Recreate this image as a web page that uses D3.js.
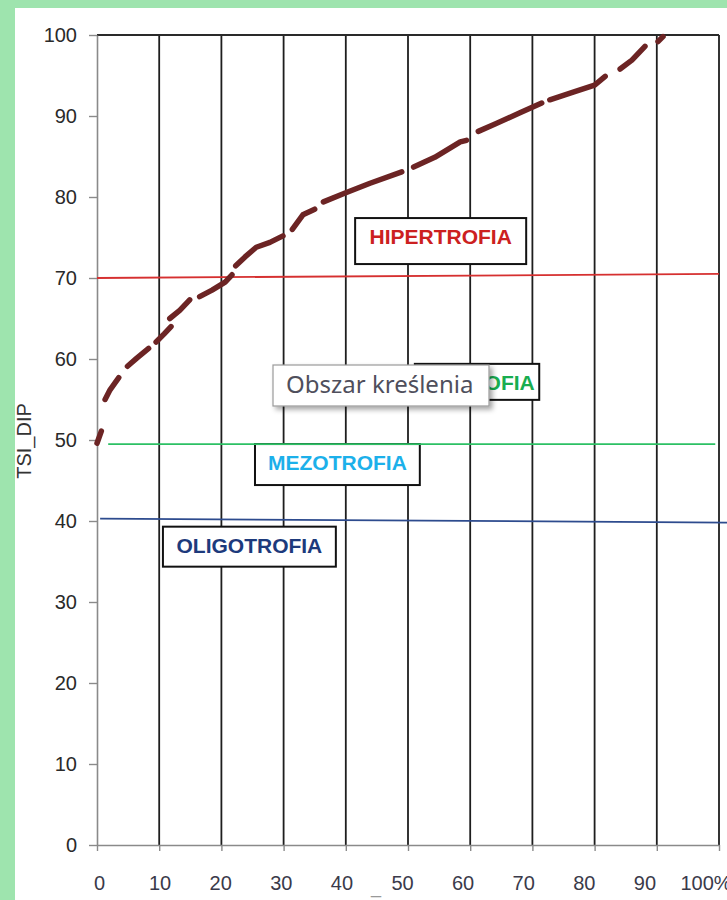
<!DOCTYPE html>
<html>
<head>
<meta charset="utf-8">
<script src="https://cdn.jsdelivr.net/npm/d3@7/dist/d3.min.js"></script>
<style>
  body { margin: 0; background: #9ee4ae; }
  svg { display: block; font-family: "Liberation Sans", Arial, sans-serif; }
</style>
</head>
<body>
<svg id="chart" width="727" height="900"></svg>
<script>
// cumulative share of lakes (%) and TSI_DIP, null = gap between marker clusters
var pct = [0, 0.7, null,
  1.3, 2.1, 3.5, null,
  4.9, 6.4, 8.3, null,
  9.5, 10.8, 11.9, null,
  11.7, 13.3, 14.9, null,
  16.5, 18.5, 20.6, 21.7, null,
  22.3, 23.8, 25.6, 27.8, 29.9, null,
  31.4, 33.1, 35.0, null,
  36.4, 39.9, 43.9, 49.0, null,
  50.9, 54.3, 58.4, 59.4, null,
  61.3, 64.0, 68.0, 71.5, null,
  72.8, 76.8, 80.0, 81.7, null,
  84.1, 86.0, 88.1, null,
  90.2, 91.0];
var tsi = [49.6, 51.1, null,
  55.0, 56.2, 57.7, null,
  59.1, 60.1, 61.3, null,
  62.1, 63.1, 64.0, null,
  65.0, 66.0, 67.3, null,
  67.7, 68.5, 69.5, 70.4, null,
  71.5, 72.6, 73.8, 74.4, 75.2, null,
  76.0, 77.8, 78.5, null,
  79.4, 80.5, 81.7, 83.1, null,
  83.7, 84.9, 86.8, 87.0, null,
  88.1, 89.0, 90.4, 91.6, null,
  92.0, 93.0, 93.8, 94.9, null,
  95.8, 96.9, 98.6, null,
  99.2, 99.8];

var yTicks = [0, 10, 20, 30, 40, 50, 60, 70, 80, 90, 100];
var xTicks = [0, 10, 20, 30, 40, 50, 60, 70, 80, 90, 100];
var xTickLabels = ["0", "10", "20", "30", "40", "50", "60", "70", "80", "90", "100%"];

// trophic class limits (hand drawn, slightly tilted)
var zoneNames = ["HIPERTROFIA", "EUTROFIA", "MEZOTROFIA", "OLIGOTROFIA"];
var limitNames = ["hiper", "eu", "oligo"];
var limitLeft = [70.0, 49.5, 40.3];
var limitRight = [70.5, 49.5, 39.8];

var svg = d3.select("#chart");

// white sheet
svg.append("rect").attr("x", 15).attr("y", 8).attr("width", 712).attr("height", 892).attr("fill", "#fff");

var x = d3.scaleLinear().domain([0, 100]).range([97, 719]);
var y = d3.scaleLinear().domain([0, 100]).range([845, 35]);
// the tick labels sit a bit off the grid in the original
var xl = d3.scaleLinear().domain([0, 100]).range([99, 705]);

//vertical grid + frame
svg.append("g").selectAll("line")
  .data(xTicks.filter(function(d){ return d > 0; }))
  .enter().append("line")
  .attr("x1", function(d){ return x(d); }).attr("x2", function(d){ return x(d); })
  .attr("y1", y(100)).attr("y2", y(0))
  .attr("stroke", "#1e1e1e").attr("stroke-width", 1.8);
svg.append("line")
  .attr("x1", x(0)).attr("x2", x(100)).attr("y1", y(100)).attr("y2", y(100))
  .attr("stroke", "#2a2a2a").attr("stroke-width", 1.8);

// axes
var yAxis = svg.append("g").attr("transform", "translate(" + x(0) + ",0)")
  .call(d3.axisLeft(y).tickValues(yTicks).tickSize(8).tickSizeOuter(0).tickPadding(12));
var xAxis = svg.append("g").attr("transform", "translate(0," + y(0) + ")")
  .call(d3.axisBottom(x).tickValues(xTicks).tickSize(6).tickSizeOuter(0).tickFormat(""));
[yAxis, xAxis].forEach(function(a){
  a.select(".domain").attr("stroke", "#8a8a8a").attr("stroke-width", 1.6);
  a.selectAll(".tick line").attr("stroke", "#8a8a8a").attr("stroke-width", 1.4);
});
yAxis.selectAll("text").attr("font-size", 20).attr("font-family", "Liberation Sans, Arial, sans-serif").attr("fill", "#2a2a2a");

var xLab = svg.append("g").attr("transform", "translate(0,890)")
  .call(d3.axisBottom(xl).tickValues(xTicks).tickSize(0)
    .tickFormat(function(d, i){ return xTickLabels[i]; }));
xLab.select(".domain").remove();
xLab.selectAll("text").attr("y", 0).attr("dy", 0).attr("font-size", 20)
  .attr("font-family", "Liberation Sans, Arial, sans-serif").attr("fill", "#3a3a4a");
xLab.selectAll(".tick").filter(function(d){ return d == 100; }).select("text").attr("text-anchor", "start").attr("x", -25);

svg.append("text").attr("x", 371).attr("y", 893).attr("font-size", 18).attr("fill", "#999").text("_");

// y title
svg.append("text")
  .attr("transform", "translate(31,441) rotate(-90)")
  .attr("text-anchor", "middle").attr("font-size", 20).attr("fill", "#333")
  .text("TSI_DIP");

// class label boxes
var boxColors = {"HIPERTROFIA": "#cc2020", "EUTROFIA": "#18ad50", "MEZOTROFIA": "#1cb0ea", "OLIGOTROFIA": "#1d3a7c"};
var boxes = [
  {x0: 41.5, x1: 69.0, top: 77.4, h: 46},
  {x0: 51.1, x1: 71.1, top: 59.4, h: 36},
  {x0: 25.4, x1: 51.9, top: 49.5, h: 41},
  {x0: 10.6, x1: 38.4, top: 39.3, h: 40}
];
var bg = svg.append("g").selectAll("g").data(zoneNames).enter().append("g");
bg.append("rect")
  .attr("x", function(d, i){ return x(boxes[i].x0); })
  .attr("y", function(d, i){ return y(boxes[i].top); })
  .attr("width", function(d, i){ return x(boxes[i].x1) - x(boxes[i].x0); })
  .attr("height", function(d, i){ return boxes[i].h; })
  .attr("fill", "#fff").attr("stroke", "#111").attr("stroke-width", 2);
bg.append("text")
  .attr("x", function(d, i){ return (x(boxes[i].x0) + x(boxes[i].x1)) / 2 + (d == "EUTROFIA" ? 4 : 0); })
  .attr("y", function(d, i){ return y(boxes[i].top) + 26; })
  .attr("text-anchor", "middle").attr("font-size", 21).attr("font-weight", "bold")
  .attr("fill", function(d){ return boxColors[d]; })
  .text(function(d){ return d; });

// limit lines
var limitColors = ["#d63030", "#2cc064", "#2d4b8e"];
var limitFrom = [0, 1.8, 0.5], limitTo = [100, 99.4, 101.5];
svg.append("g").selectAll("line").data(limitNames).enter().append("line")
  .attr("x1", function(d, i){ return x(limitFrom[i]); })
  .attr("x2", function(d, i){ return x(limitTo[i]); })
  .attr("y1", function(d, i){ return y(limitLeft[i]); })
  .attr("y2", function(d, i){ return y(limitRight[i]); })
  .attr("stroke", function(d, i){ return limitColors[i]; })
  .attr("stroke-width", 1.8);

// cumulative curve
var line = d3.line()
  .defined(function(d, i){ return tsi[i] != null; })
  .x(function(d, i){ return x(pct[i]); })
  .y(function(d, i){ return y(tsi[i]); });
svg.append("path").datum(pct)
  .attr("d", line)
  .attr("fill", "none").attr("stroke", "#6c2424").attr("stroke-width", 5.5)
  .attr("stroke-linecap", "round").attr("stroke-linejoin", "round");

// "plot area" tooltip left on the screenshot
var defs = svg.append("defs");
var f = defs.append("filter").attr("id", "shadow").attr("x", "-10%").attr("y", "-20%").attr("width", "130%").attr("height", "160%");
f.append("feDropShadow").attr("dx", 3).attr("dy", 3).attr("stdDeviation", 2.5).attr("flood-color", "#000").attr("flood-opacity", 0.35);
svg.append("rect").attr("x", 273).attr("y", 365).attr("width", 216).attr("height", 41)
  .attr("fill", "#fff").attr("stroke", "#9a9a9a").attr("stroke-width", 1.2)
  .attr("filter", "url(#shadow)");
svg.append("text").attr("x", 286).attr("y", 393)
  .attr("font-family", "Noto Sans, Open Sans, sans-serif").attr("font-size", 24).attr("fill", "#4f4f5c")
  .text("Obszar kreślenia");
</script>
</body>
</html>
